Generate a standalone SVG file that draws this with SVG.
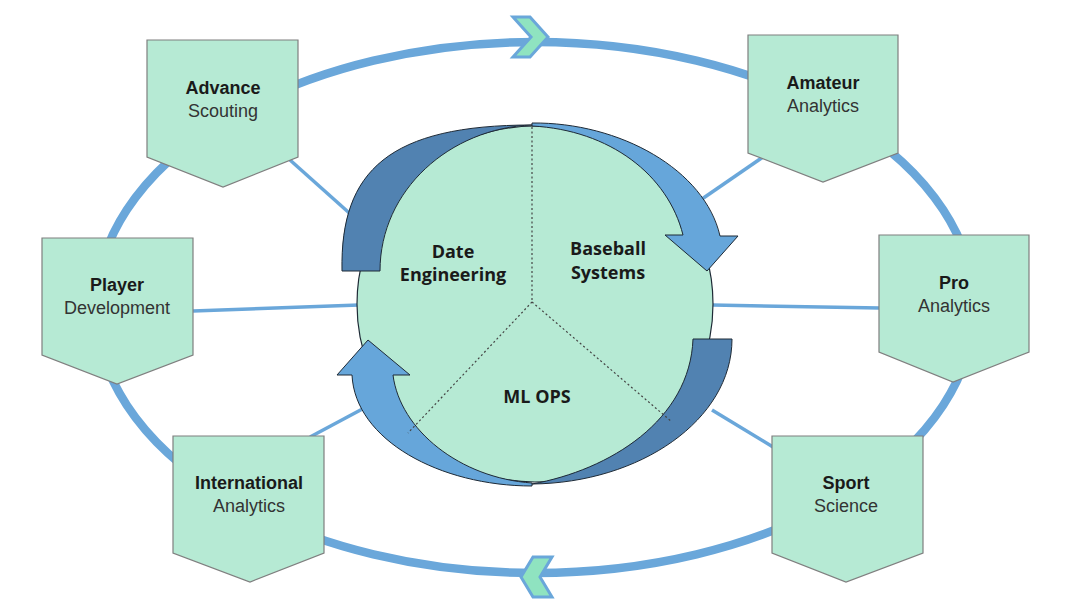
<svg xmlns="http://www.w3.org/2000/svg" width="1084" height="600" viewBox="0 0 1084 600">
<style>
.node{fill:#b6ead4;stroke:#7f7f7f;stroke-width:1.2}
.title{font-family:"Liberation Sans",Arial,sans-serif;font-size:18px;font-weight:bold;fill:#1a1a1a;text-anchor:middle}
.sub{font-family:"Liberation Sans",Arial,sans-serif;font-size:18px;fill:#333;text-anchor:middle}
.ctext{font-family:"Open Sans","DejaVu Sans",sans-serif;font-size:18px;font-weight:bold;fill:#1a1a1a;text-anchor:middle}
.spoke{stroke:#6aa7da;stroke-width:3.5;fill:none}
.ring{stroke:#6aa7da;stroke-width:8.5;fill:none}
.chev{fill:#8fe3c0;stroke:#6aa7da;stroke-width:3;stroke-linejoin:miter}
.dark{fill:#5182b1;stroke:#1e2a36;stroke-width:1}
.light{fill:#66a6da;stroke:#1e2a36;stroke-width:1}
.dot{stroke:#444;stroke-width:1.2;stroke-dasharray:2 2.5;fill:none}
</style>
<rect width="1084" height="600" fill="#ffffff"/>
<g id="connectors">
<ellipse class="ring" cx="535" cy="307.5" rx="439" ry="265.5"/>
<polygon class="chev" points="513,17 530,17 548,37 530,57 513,57 531,37"/>
<polygon class="chev" points="533,557 552,557 540,577 552,597 533,597 521,577"/>
<line class="spoke" x1="290" y1="160" x2="356" y2="219"/>
<line class="spoke" x1="193" y1="311" x2="359" y2="305"/>
<line class="spoke" x1="310" y1="437" x2="368" y2="406"/>
<line class="spoke" x1="763" y1="157" x2="702" y2="199"/>
<line class="spoke" x1="712" y1="305" x2="880" y2="308"/>
<line class="spoke" x1="712" y1="410" x2="773" y2="447"/>
</g>
<g id="hub">
<circle cx="535" cy="304" r="178" fill="#b6ead4" stroke="#1e2a36" stroke-width="1.2"/>
<path class="dark" d="M342,271 C340,170 390,125 532,125 C450,128 380,190 380,271 Z"/>
<path class="light" d="M532,123 C620,122 705,170 720,236 L738,236 L707,271 L665,235 L683,235 C668,175 610,130 532,126 Z"/>
<path class="dark" d="M693,339 L732,339 C732,420 640,483 532,484 C610,470 690,420 693,339 Z"/>
<path class="light" d="M532,486 C440,486 355,440 352,375 L337,375 L368,340 L410,375 L393,375 C400,430 460,478 532,483 Z"/>
<line class="dot" x1="532" y1="127" x2="532" y2="302"/>
<line class="dot" x1="532" y1="302" x2="408" y2="433"/>
<line class="dot" x1="532" y1="302" x2="672" y2="422"/>
<text class="ctext" x="453" y="258">Date</text>
<text class="ctext" x="453" y="281">Engineering</text>
<text class="ctext" x="608" y="255">Baseball</text>
<text class="ctext" x="608" y="279">Systems</text>
<text class="ctext" x="537" y="403">ML OPS</text>
</g>
<g id="advance-scouting">
<polygon class="node" points="147,40 298,40 298,157 223,187 147,157"/>
<text class="title" x="223" y="94">Advance</text>
<text class="sub" x="223" y="117">Scouting</text>
</g>
<g id="player-development">
<polygon class="node" points="42,238 193,238 193,355 117,384 42,355"/>
<text class="title" x="117" y="291">Player</text>
<text class="sub" x="117" y="314">Development</text>
</g>
<g id="international-analytics">
<polygon class="node" points="173,436 324,436 324,553 250,582 173,553"/>
<text class="title" x="249" y="489">International</text>
<text class="sub" x="249" y="512">Analytics</text>
</g>
<g id="amateur-analytics">
<polygon class="node" points="748,35 898,35 898,153 823,182 748,153"/>
<text class="title" x="823" y="89">Amateur</text>
<text class="sub" x="823" y="112">Analytics</text>
</g>
<g id="pro-analytics">
<polygon class="node" points="879,235 1029,235 1029,352 953,382 879,352"/>
<text class="title" x="954" y="289">Pro</text>
<text class="sub" x="954" y="312">Analytics</text>
</g>
<g id="sport-science">
<polygon class="node" points="772,436 923,436 923,553 846,582 772,553"/>
<text class="title" x="846" y="489">Sport</text>
<text class="sub" x="846" y="512">Science</text>
</g>
</svg>
